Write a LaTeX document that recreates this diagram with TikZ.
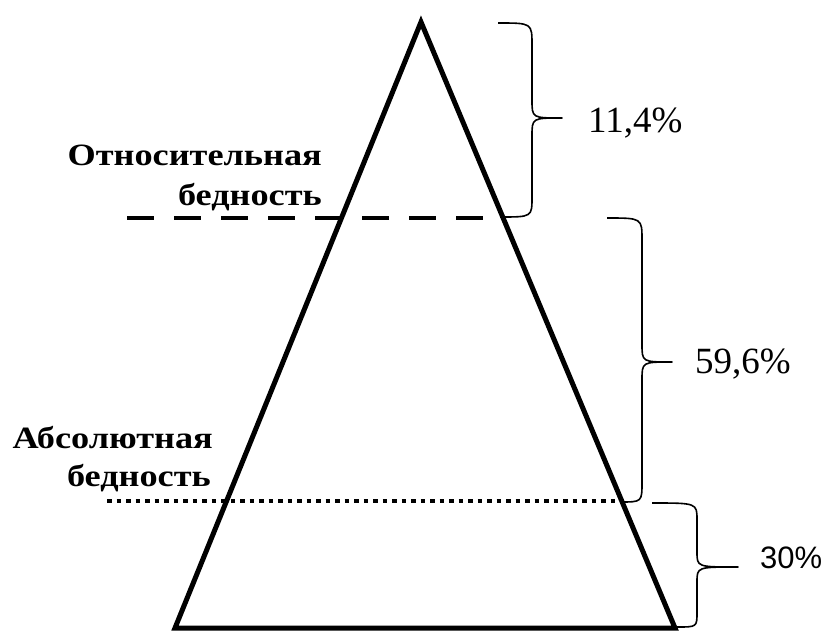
\documentclass[tikz,border=0pt]{standalone}
\usepackage{fontspec}
\setmainfont{Liberation Serif}
\newfontfamily\lblfont{Liberation Serif}[FakeStretch=1.17]
\newfontfamily\pctsans{Liberation Sans}
\begin{document}
\begin{tikzpicture}[x=1pt,y=-1pt,
  tri/.style={line width=5pt,line join=miter},
  relline/.style={line width=4.5pt,dash pattern=on 27pt off 20pt},
  absline/.style={line width=4.5pt,dash pattern=on 4.5pt off 5pt},
  bracepath/.style={line width=1.6pt,line join=round},
  lbl/.style={inner sep=0pt,anchor=base east,font=\fontsize{31}{35}\lblfont\bfseries},
  pct/.style={inner sep=0pt,anchor=base west,font=\fontsize{37}{40}\selectfont}]
\useasboundingbox (0,0) rectangle (827,632);
% triangle
\coordinate (apex) at (421,22);
\coordinate (bl) at (175,628);
\coordinate (br) at (675,628);
\draw[tri] (apex) -- (bl) -- (br) -- cycle;
% poverty lines
\coordinate (relL) at (127,218);
\coordinate (relR) at (502,218);
\draw[relline] (relL) -- (relR);
\coordinate (absL) at (107,501);
\coordinate (absR) at (622,501);
\draw[absline] (absL) -- (absR);
% labels
\node[lbl] (rel1) at (322,165) {Относительная};
\node[lbl] (rel2) at (322,205) {бедность};
\node[lbl] (abs1) at (213,448) {Абсолютная};
\node[lbl] (abs2) at (211,486) {бедность};
% braces
\draw[bracepath] (498,23) .. controls (532,23) .. (532,45) -- (532,100)
  .. controls (532,118) .. (562,118) .. controls (532,118) .. (532,136)
  -- (532,197) .. controls (532,217) .. (500,217);
\draw[bracepath] (607,218) .. controls (642,218) .. (642,240) -- (642,344)
  .. controls (642,362) .. (672,362) .. controls (642,362) .. (642,380)
  -- (642,482) .. controls (642,502) .. (620,502);
\draw[bracepath] (652,503) .. controls (697,503) .. (697,520) -- (697,552)
  .. controls (697,567) .. (738,567) .. controls (697,567) .. (697,582)
  -- (697,612) .. controls (697,627) .. (677,627);
% percentages
\node[pct] (p1) at (588,132) {11,4\%};
\node[pct] (p2) at (695,373) {59,6\%};
\node[pct,font=\fontsize{31}{36}\selectfont\pctsans] (p3) at (760,568) {30\%};
\end{tikzpicture}
\end{document}
